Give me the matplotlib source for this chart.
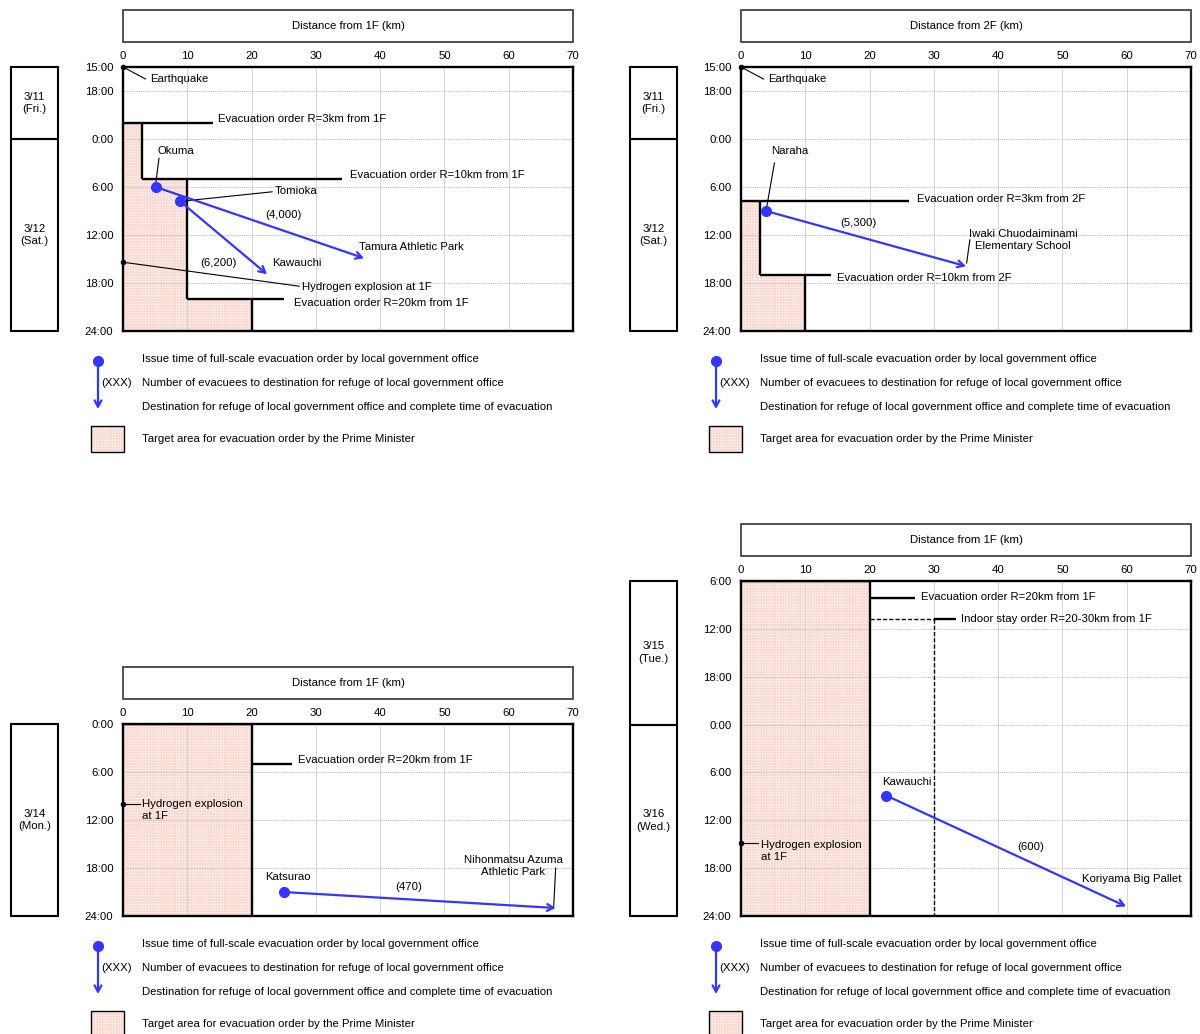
import matplotlib
matplotlib.use('Agg')
import matplotlib.pyplot as plt
from matplotlib.patches import Rectangle

plt.rcParams['font.family'] = ['Liberation Sans', 'DejaVu Sans']
plt.rcParams['font.size'] = 8.2
plt.rcParams['hatch.linewidth'] = 0.6

W, H = 1200, 1034
BLUE = '#3535ff'
PINK = '#f9d4cc'
DOTS = '#fcebe7'

# ---------------- data (hours counted from the first tick of each panel) ----------------
# panel A: 3/11 15:00 - 3/12 24:00, distance from 1F
a_hours = 33
a_ticks = [0, 3, 9, 15, 21, 27, 33]
a_tick_labels = ['15:00', '18:00', '0:00', '6:00', '12:00', '18:00', '24:00']
a_days = ['3/11\n(Fri.)', '3/12\n(Sat.)']
a_day_edges = [0, 9, 33]
a_order_r = [3, 10, 20]
a_order_h = [7.0, 14.0, 29.0]
a_order_text = ['Evacuation order R=3km from 1F', 'Evacuation order R=10km from 1F',
                'Evacuation order R=20km from 1F']
a_from = ['Okuma', 'Tomioka']
a_from_km = [5.1, 8.9]
a_from_h = [15.0, 16.8]
a_to = ['Tamura Athletic Park', 'Kawauchi']
a_to_km = [37.5, 22.4]
a_to_h = [23.9, 25.9]
a_people = ['(4,000)', '(6,200)']
a_events = ['Earthquake', 'Hydrogen explosion at 1F']
a_event_h = [0.0, 24.4]

# panel B: 3/11 15:00 - 3/12 24:00, distance from 2F
b_order_r = [3, 10]
b_order_h = [16.75, 26.0]
b_order_text = ['Evacuation order R=3km from 2F', 'Evacuation order R=10km from 2F']
b_from = ['Naraha']
b_from_km = [3.9]
b_from_h = [18.0]
b_to = ['Iwaki Chuodaiminami\nElementary School']
b_to_km = [35.0]
b_to_h = [24.9]
b_people = ['(5,300)']
b_events = ['Earthquake']
b_event_h = [0.0]

# panel C: 3/14 0:00 - 24:00, distance from 1F
c_hours = 24
c_ticks = [0, 6, 12, 18, 24]
c_tick_labels = ['0:00', '6:00', '12:00', '18:00', '24:00']
c_days = ['3/14\n(Mon.)']
c_day_edges = [0, 24]
c_order_r = [20]
c_order_h = [0.0]
c_order_text = ['Evacuation order R=20km from 1F']
c_from = ['Katsurao']
c_from_km = [25.0]
c_from_h = [21.0]
c_to = ['Nihonmatsu Azuma\nAthletic Park']
c_to_km = [67.3]
c_to_h = [23.0]
c_people = ['(470)']
c_events = ['Hydrogen explosion\nat 1F']
c_event_h = [10.0]

# panel D: 3/15 6:00 - 3/16 24:00, distance from 1F
d_hours = 42
d_ticks = [0, 6, 12, 18, 24, 30, 36, 42]
d_tick_labels = ['6:00', '12:00', '18:00', '0:00', '6:00', '12:00', '18:00', '24:00']
d_days = ['3/15\n(Tue.)', '3/16\n(Wed.)']
d_day_edges = [0, 18, 42]
d_order_r = [20]
d_order_h = [0.0]
d_order_text = ['Evacuation order R=20km from 1F']
d_indoor_r = [20, 30]
d_indoor_h = 4.8
d_from = ['Kawauchi']
d_from_km = [22.6]
d_from_h = [26.9]
d_to = ['Koriyama Big Pallet']
d_to_km = [59.9]
d_to_h = [40.8]
d_people = ['(600)']
d_events = ['Hydrogen explosion\nat 1F']
d_event_h = [32.9]

legend_text = ['Issue time of full-scale evacuation order by local government office',
               'Number of evacuees to destination for refuge of local government office',
               'Destination for refuge of local government office and complete time of evacuation',
               'Target area for evacuation order by the Prime Minister']

# ---------------- drawing ----------------
fig = plt.figure(figsize=(W / 100, H / 100), dpi=100)
bg = fig.add_axes([0, 0, 1, 1])
bg.set_xlim(0, W)
bg.set_ylim(H, 0)
bg.axis('off')


def px_axes(x0, y0, x1, y1):
    return fig.add_axes([x0 / W, 1 - y1 / H, (x1 - x0) / W, (y1 - y0) / H])


def pink_box(ax, x, y, w, h, **kw):
    ax.add_patch(Rectangle((x, y), w, h, facecolor=PINK, edgecolor=DOTS, hatch='++++++',
                           lw=0, **kw))


def panel(rect, day_x, hours, ticks, tick_labels, days, day_edges, plant):
    x0, y0, x1, y1 = rect
    ax = px_axes(x0, y0, x1, y1)
    ax.set_xlim(0, 70)
    ax.set_ylim(hours, 0)
    ax.xaxis.tick_top()
    ax.set_xticks(range(0, 71, 10))
    ax.set_yticks(ticks)
    ax.set_yticklabels(tick_labels)
    ax.tick_params(axis='x', length=0, pad=4.5)
    ax.tick_params(axis='y', length=0, pad=7)
    ax.set_axisbelow(True)
    ax.xaxis.grid(True, color='#d6d6d6', lw=0.7)
    ax.yaxis.grid(True, color='#b8b8b8', lw=0.7, ls=(0, (1, 1)))
    for s in ax.spines.values():
        s.set_linewidth(1.7)
    # header box
    bg.add_patch(Rectangle((x0, y0 - 57), x1 - x0, 32, fill=False, lw=1.2, ec='#333333'))
    bg.text((x0 + x1) / 2, y0 - 41, f'Distance from {plant} (km)', ha='center', va='center')
    # day boxes share the time scale of the panel
    dax = px_axes(day_x, y0, day_x + 47, y1)
    dax.set_xlim(0, 1)
    dax.set_ylim(hours, 0)
    dax.axis('off')
    for lab, a, b in zip(days, day_edges[:-1], day_edges[1:]):
        dax.add_patch(Rectangle((0, a), 1, b - a, fill=False, lw=1.5, clip_on=False))
        dax.text(0.5, (a + b) / 2, lab, ha='center', va='center', linespacing=1.35)
    return ax


def zone(ax, order_r, order_h, hours):
    edges = list(order_h) + [hours]
    xs = list(order_r) + [order_r[-1]]
    ax.fill_betweenx(edges, 0, xs, step='post', facecolor=PINK, edgecolor=DOTS,
                     hatch='++++++', lw=0, zorder=0.3)
    prev = 0
    for i, r in enumerate(order_r):
        ax.plot([prev, r], [order_h[i], order_h[i]], color='k', lw=1.7, solid_capstyle='butt')
        ax.plot([r, r], [order_h[i], edges[i + 1]], color='k', lw=1.7, solid_capstyle='butt')
        prev = r


def leader(ax, p, q, lw=0.8):
    ax.plot([p[0], q[0]], [p[1], q[1]], color='k', lw=lw, clip_on=False)


def moves(ax, from_km, from_h, to_km, to_h):
    for a, b, c, d in zip(from_km, from_h, to_km, to_h):
        ax.annotate('', xy=(c, d), xytext=(a, b),
                    arrowprops=dict(arrowstyle='->,head_length=0.55,head_width=0.3',
                                    color=BLUE, lw=1.6, shrinkA=0, shrinkB=0))
        ax.plot(a, b, 'o', color=BLUE, ms=7, zorder=5)


def events(ax, event_h):
    for h in event_h:
        ax.plot(0, h, 'o', color='k', ms=3, clip_on=False, zorder=6)


def legend(dx, dy):
    bg.annotate('', xy=(98 + dx, 409 + dy), xytext=(98 + dx, 361 + dy),
                arrowprops=dict(arrowstyle='->,head_length=0.55,head_width=0.3',
                                color=BLUE, lw=1.6, shrinkA=0, shrinkB=0))
    bg.plot(98 + dx, 361 + dy, 'o', color=BLUE, ms=7)
    bg.text(101 + dx, 383 + dy, '(XXX)', va='center')
    for t, y in zip(legend_text, [359, 383, 407, 439]):
        bg.text(142 + dx, y + dy, t, va='center')
    pink_box(bg, 91 + dx, 426 + dy, 33, 26)
    bg.add_patch(Rectangle((91 + dx, 426 + dy), 33, 26, fill=False, lw=1.0, ec='k'))


# ---- panel A ----
ax = panel((123, 67, 573, 331), 11, a_hours, a_ticks, a_tick_labels, a_days, a_day_edges, '1F')
zone(ax, a_order_r, a_order_h, a_hours)
for r, h, e, (tx, ty), t in zip(a_order_r, a_order_h, [14, 34, 25],
                                [(14.8, 6.5), (35.3, 13.5), (26.6, 29.5)], a_order_text):
    ax.plot([r, e], [h, h], color='k', lw=1.7, solid_capstyle='butt')
    ax.text(tx, ty, t, va='center')
moves(ax, a_from_km, a_from_h, a_to_km, a_to_h)
events(ax, a_event_h)
leader(ax, (a_from_km[0], 14.5), (5.6, 11.4))
ax.text(5.4, 10.5, a_from[0], va='center')
leader(ax, (a_from_km[1], a_from_h[1]), (23.2, 15.6))
ax.text(23.6, 15.5, a_from[1], va='center')
ax.text(25.0, 18.5, a_people[0], ha='center', va='center')
ax.text(36.7, 22.5, a_to[0], va='center')
ax.text(14.9, 24.5, a_people[1], ha='center', va='center')
ax.text(23.2, 24.5, a_to[1], va='center')
leader(ax, (0, a_event_h[0]), (3.5, 1.5))
ax.text(4.2, 1.5, a_events[0], va='center')
leader(ax, (0, a_event_h[1]), (27.4, 27.4))
ax.text(27.8, 27.5, a_events[1], va='center')
legend(0, 0)

# ---- panel B ----
ax = panel((741, 67, 1191, 331), 630, a_hours, a_ticks, a_tick_labels, a_days, a_day_edges, '2F')
zone(ax, b_order_r, b_order_h, a_hours)
for r, h, e, (tx, ty), t in zip(b_order_r, b_order_h, [26.2, 14],
                                [(27.4, 16.5), (14.9, 26.4)], b_order_text):
    ax.plot([r, e], [h, h], color='k', lw=1.7, solid_capstyle='butt')
    ax.text(tx, ty, t, va='center')
moves(ax, b_from_km, b_from_h, b_to_km, b_to_h)
events(ax, b_event_h)
leader(ax, (4.0, 17.5), (5.2, 12.0))
ax.text(4.7, 10.5, b_from[0], va='center')
leader(ax, (35.1, 24.5), (35.6, 21.6))
ax.text(43.9, 21.6, b_to[0], ha='center', va='center', linespacing=1.3)
ax.text(18.3, 19.5, b_people[0], ha='center', va='center')
leader(ax, (0, b_event_h[0]), (3.5, 1.5))
ax.text(4.2, 1.5, b_events[0], va='center')
legend(618, 0)

# ---- panel C ----
ax = panel((123, 724, 573, 916), 11, c_hours, c_ticks, c_tick_labels, c_days, c_day_edges, '1F')
zone(ax, c_order_r, c_order_h, c_hours)
ax.plot([c_order_r[0], 26.3], [5.0, 5.0], color='k', lw=1.7, solid_capstyle='butt')
ax.text(27.2, 4.5, c_order_text[0], va='center')
moves(ax, c_from_km, c_from_h, c_to_km, c_to_h)
events(ax, c_event_h)
leader(ax, (0, c_event_h[0]), (2.6, c_event_h[0]))
ax.text(2.95, 10.7, c_events[0], va='center', linespacing=1.25)
ax.text(25.6, 19.1, c_from[0], ha='center', va='center')
ax.text(44.4, 20.4, c_people[0], ha='center', va='center')
leader(ax, (67.0, 22.8), (67.3, 18.0))
ax.text(60.7, 17.7, c_to[0], ha='center', va='center', linespacing=1.25)
legend(0, 585)

# ---- panel D ----
ax = panel((741, 581, 1191, 916), 630, d_hours, d_ticks, d_tick_labels, d_days, d_day_edges, '1F')
zone(ax, d_order_r, d_order_h, d_hours)
ax.plot([d_order_r[0], 27.1], [2.1, 2.1], color='k', lw=1.7, solid_capstyle='butt')
ax.text(28.0, 2.0, d_order_text[0], va='center')
ax.plot(d_indoor_r, [d_indoor_h, d_indoor_h], color='k', lw=1.0, ls=(0, (3, 1.5)))
ax.plot([d_indoor_r[1], d_indoor_r[1]], [d_indoor_h, d_hours], color='k', lw=1.0, ls=(0, (3, 1.5)))
ax.plot([d_indoor_r[1], 33.4], [d_indoor_h, d_indoor_h], color='k', lw=1.7, solid_capstyle='butt')
ax.text(34.2, 4.75, 'Indoor stay order R=20-30km from 1F', va='center')
moves(ax, d_from_km, d_from_h, d_to_km, d_to_h)
events(ax, d_event_h)
leader(ax, (0, d_event_h[0]), (2.6, d_event_h[0]))
ax.text(3.1, 33.9, d_events[0], va='center', linespacing=1.25)
ax.text(21.9, 25.25, d_from[0], va='center')
ax.text(45.1, 33.4, d_people[0], ha='center', va='center')
ax.text(53.0, 37.4, d_to[0], va='center')
legend(618, 585)

fig.savefig('out.png', dpi=100)
